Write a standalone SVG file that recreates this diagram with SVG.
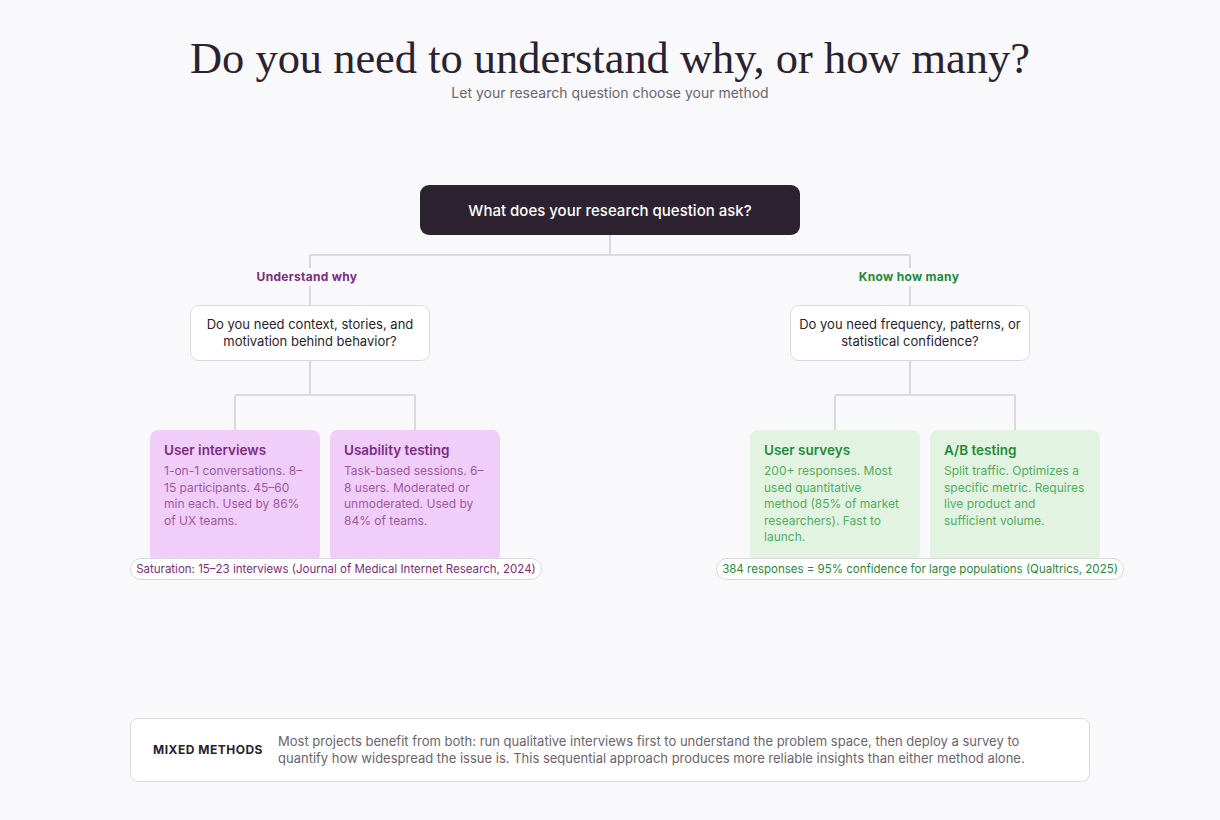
<svg xmlns="http://www.w3.org/2000/svg" width="1220" height="820" viewBox="0 0 1220 820">
<style>
.sans{font-family:Inter,"Noto Sans","Liberation Sans",sans-serif}
.title{font-family:"Liberation Serif","DejaVu Serif",serif;font-size:44px;fill:#2a2230}
.sub{font-size:14px;fill:#6b6470}
.conn{stroke:#dcd8e2;stroke-width:2;fill:none}
.q{fill:#fff;stroke:#dcd8e2;stroke-width:1}
.qt{font-size:13px;fill:#2a2230}
.lbl{font-size:12px;font-weight:700;letter-spacing:0.3px}
.pc{fill:#f1cdf9}
.gc{fill:#e3f3e2}
.ct{font-size:13.5px;font-weight:600}
.cb{font-size:12px}
.pill{fill:#fff;stroke:#dcd8e2;stroke-width:1}
.pt{font-size:11.5px}
</style>
<rect width="1220" height="820" fill="#f9f9fb"/>
<text class="title" x="610" y="73" text-anchor="middle" textLength="840" lengthAdjust="spacingAndGlyphs">Do you need to understand why, or how many?</text>
<text class="sans sub" x="610" y="98" text-anchor="middle">Let your research question choose your method</text>

<g id="connectors">
<path class="conn" d="M610 235V255M310 255H910M310 255V305M910 255V305"/>
<path class="conn" d="M310 360V395M235 395H415M235 395V430M415 395V430"/>
<path class="conn" d="M910 360V395M835 395H1015M835 395V430M1015 395V430"/>
<rect x="250" y="268" width="115" height="18" fill="#f9f9fb"/>
<rect x="852" y="268" width="115" height="18" fill="#f9f9fb"/>
<text class="sans lbl" x="307" y="281" text-anchor="middle" fill="#7b2c80">Understand why</text>
<text class="sans lbl" x="909" y="281" text-anchor="middle" fill="#1f8a3a">Know how many</text>
</g>

<g id="root">
<rect x="420" y="185" width="380" height="50" rx="9" fill="#2d2330"/>
<text class="sans" x="610" y="216" text-anchor="middle" font-size="15" font-weight="500" fill="#fff">What does your research question ask?</text>
</g>

<g id="q-why">
<rect class="q" x="190.5" y="305.5" width="239" height="55" rx="8"/>
<text class="sans qt" x="310" y="329" text-anchor="middle">Do you need context, stories, and</text>
<text class="sans qt" x="310" y="346" text-anchor="middle">motivation behind behavior?</text>
</g>

<g id="q-many">
<rect class="q" x="790.5" y="305.5" width="239" height="55" rx="8"/>
<text class="sans qt" x="910" y="329" text-anchor="middle">Do you need frequency, patterns, or</text>
<text class="sans qt" x="910" y="346" text-anchor="middle">statistical confidence?</text>
</g>

<g id="interviews">
<rect class="pc" x="150" y="430" width="170" height="132" rx="8"/>
<text class="sans ct" x="164" y="455" fill="#7b2c80">User interviews</text>
<g class="sans cb" fill="#9c5aa3">
<text x="164" y="475">1-on-1 conversations. 8–</text>
<text x="164" y="491.5">15 participants. 45–60</text>
<text x="164" y="508">min each. Used by 86%</text>
<text x="164" y="524.5">of UX teams.</text>
</g>
</g>

<g id="usability">
<rect class="pc" x="330" y="430" width="170" height="132" rx="8"/>
<text class="sans ct" x="344" y="455" fill="#7b2c80">Usability testing</text>
<g class="sans cb" fill="#9c5aa3">
<text x="344" y="475">Task-based sessions. 6–</text>
<text x="344" y="491.5">8 users. Moderated or</text>
<text x="344" y="508">unmoderated. Used by</text>
<text x="344" y="524.5">84% of teams.</text>
</g>
</g>

<g id="surveys">
<rect class="gc" x="750" y="430" width="170" height="132" rx="8"/>
<text class="sans ct" x="764" y="455" fill="#1f8a3a">User surveys</text>
<g class="sans cb" fill="#4fae5f">
<text x="764" y="475">200+ responses. Most</text>
<text x="764" y="491.5">used quantitative</text>
<text x="764" y="508">method (85% of market</text>
<text x="764" y="524.5">researchers). Fast to</text>
<text x="764" y="541">launch.</text>
</g>
</g>

<g id="abtesting">
<rect class="gc" x="930" y="430" width="170" height="132" rx="8"/>
<text class="sans ct" x="944" y="455" fill="#1f8a3a">A/B testing</text>
<g class="sans cb" fill="#4fae5f">
<text x="944" y="475">Split traffic. Optimizes a</text>
<text x="944" y="491.5">specific metric. Requires</text>
<text x="944" y="508">live product and</text>
<text x="944" y="524.5">sufficient volume.</text>
</g>
</g>

<g id="pill-why">
<rect class="pill" x="130.5" y="558.5" width="411" height="21" rx="10.5"/>
<text class="sans pt" x="336" y="573" text-anchor="middle" fill="#7b2c80">Saturation: 15–23 interviews (Journal of Medical Internet Research, 2024)</text>
</g>

<g id="pill-many">
<rect class="pill" x="716.5" y="558.5" width="407" height="21" rx="10.5"/>
<text class="sans pt" x="920" y="573" text-anchor="middle" fill="#1f8a3a">384 responses = 95% confidence for large populations (Qualtrics, 2025)</text>
</g>

<g id="mixed">
<rect x="130.5" y="718.5" width="959" height="63" rx="8" fill="#fff" stroke="#dcd8e2"/>
<text class="sans" x="153" y="754" font-size="12" font-weight="700" letter-spacing="0.5" fill="#2a2230">MIXED METHODS</text>
<text class="sans" x="278" y="746" font-size="13" fill="#6b6470">Most projects benefit from both: run qualitative interviews first to understand the problem space, then deploy a survey to</text>
<text class="sans" x="278" y="763" font-size="13" fill="#6b6470">quantify how widespread the issue is. This sequential approach produces more reliable insights than either method alone.</text>
</g>
</svg>
